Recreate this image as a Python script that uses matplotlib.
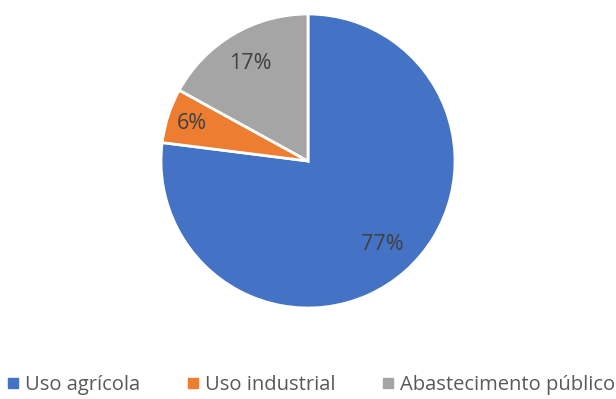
import numpy as np
import matplotlib
matplotlib.use("Agg")
import matplotlib.pyplot as plt
from matplotlib.lines import Line2D

plt.rcParams['font.family'] = ['Open Sans', 'DejaVu Sans']

# data
labels = ["Uso agrícola", "Uso industrial", "Abastecimento público"]
values = [77, 6, 17]
colors = ["#4472C4", "#ED7D31", "#A5A5A5"]
label_dist = [0.76, 0.83, 0.77]

fig = plt.figure(figsize=(6.16, 3.99), dpi=100)
# axes box in pixels: x 161..455, y (from top) 14..308
ax = fig.add_axes([161 / 616, 91 / 399, 294 / 616, 294 / 399])

wedges, _ = ax.pie(values, colors=colors, startangle=90, counterclock=False,
                   radius=1, wedgeprops=dict(edgecolor="white", linewidth=2))

total = sum(values)
for w, v, d in zip(wedges, values, label_dist):
    ang = np.deg2rad((w.theta1 + w.theta2) / 2)
    ax.text(d * np.cos(ang), d * np.sin(ang), f"{round(100 * v / total)}%",
            ha="center", va="center", fontsize=15.5, color="#404040")

ax.set_xlim(-1, 1)
ax.set_ylim(-1, 1)

handles = [Line2D([], [], marker="s", linestyle="", markersize=7,
                  markerfacecolor=c, markeredgecolor=c) for c in colors]
fig.legend(handles, labels, loc="center", bbox_to_anchor=(0.505, 1 - 385 / 399),
           ncol=3, frameon=False, fontsize=14.5, labelcolor="#595959",
           handlelength=0.6, handletextpad=0.3, columnspacing=2.3)

fig.savefig("out.png", dpi=100)
